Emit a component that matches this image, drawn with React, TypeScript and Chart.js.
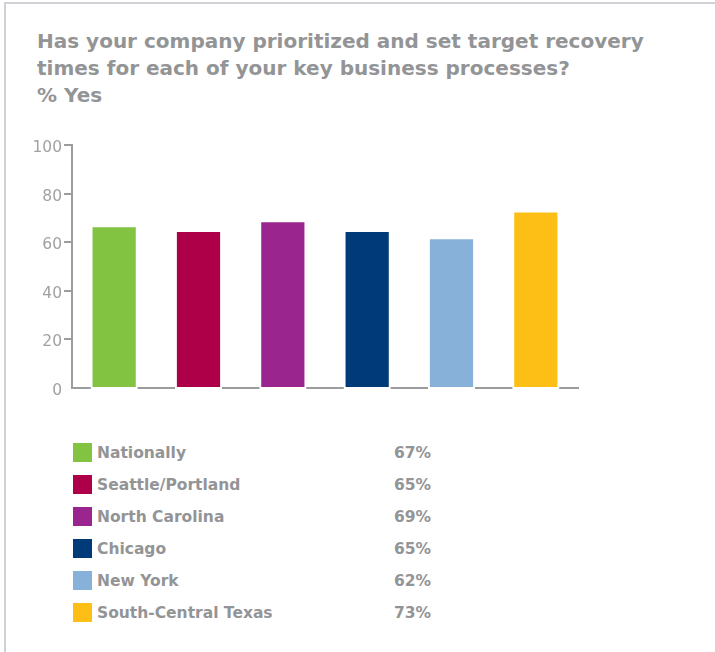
import React, { useEffect, useRef } from "react";
import { Chart, registerables } from "chart.js";

Chart.register(...registerables);

const titleLines = [
  "Has your company prioritized and set target recovery",
  "times for each of your key business processes?",
  "% Yes",
];
const categories = [
  "Nationally",
  "Seattle/Portland",
  "North Carolina",
  "Chicago",
  "New York",
  "South-Central Texas",
];
const values = [67, 65, 69, 65, 62, 73];
const valueLabels = ["67%", "65%", "69%", "65%", "62%", "73%"];
const colors = ["#82c341", "#ae0048", "#9b258f", "#003a78", "#87b1d9", "#fdbf16"];
const yTicks = [0, 20, 40, 60, 80, 100];

const AXIS = "#9c9c9e";
const TEXT = "#939496";

export default function App() {
  const ref = useRef<HTMLCanvasElement | null>(null);

  useEffect(() => {
    document.body.style.margin = "0";
    const canvas = ref.current;
    if (!canvas) return;
    const chart = new Chart(canvas, {
      type: "bar",
      data: {
        labels: categories,
        datasets: [
          {
            data: values,
            backgroundColor: colors,
            borderColor: "#ffffff",
            borderWidth: 2,
            borderSkipped: false,
            base: -0.4,
            clip: false as any,
            barPercentage: 0.56,
            categoryPercentage: 1,
          } as any,
        ],
      },
      options: {
        animation: false,
        responsive: false,
        maintainAspectRatio: false,
        layout: { padding: { top: 25, right: 22, bottom: 22, left: 0 } },
        plugins: { legend: { display: false }, tooltip: { enabled: false } },
        scales: {
          x: {
            offset: true,
            grid: { display: false, drawTicks: false },
            ticks: { display: false },
            border: { display: true, color: AXIS, width: 2 },
          },
          y: {
            min: 0,
            max: 100,
            afterFit: (s: any) => {
              s.width = 72;
            },
            afterBuildTicks: (s: any) => {
              s.ticks = yTicks.map((v) => ({ value: v }));
            },
            grid: {
              drawOnChartArea: false,
              drawTicks: true,
              tickLength: 8,
              lineWidth: 2,
              color: (c: any) => (c.tick && c.tick.value === 0 ? "rgba(0,0,0,0)" : AXIS),
            },
            border: { display: true, color: AXIS, width: 2 },
            ticks: {
              stepSize: 20,
              padding: 2,
              labelOffset: 3,
              color: "#a0a1a3",
              font: { family: "DejaVu Sans", size: 15.5, weight: "normal" },
            },
          },
        },
      },
    });
    return () => chart.destroy();
  }, []);

  return (
    <div style={{ position: "relative", width: 715, height: 652, overflow: "hidden", background: "#fff" }}>
      <div
        style={{
          position: "absolute",
          left: 4,
          top: 2,
          width: 720,
          height: 660,
          borderLeft: "2px solid #cfd1d4",
          borderTop: "2px solid #cfd1d4",
        }}
      />
      <div
        style={{
          position: "absolute",
          left: 37,
          top: 28,
          fontFamily: "'DejaVu Sans', sans-serif",
          fontWeight: "bold",
          fontSize: 20,
          lineHeight: "27px",
          color: TEXT,
          whiteSpace: "nowrap",
        }}
      >
        {titleLines.map((t, i) => (
          <div key={i}>{t}</div>
        ))}
      </div>
      <canvas ref={ref} width={600} height={290} style={{ position: "absolute", left: 0, top: 120, width: 600, height: 290 }} />
      <div style={{ position: "absolute", left: 73, top: 437 }}>
        {categories.map((c, i) => (
          <div key={c} style={{ position: "relative", height: 32, width: 360 }}>
            <div style={{ position: "absolute", left: 0, top: 6, width: 19, height: 19, background: colors[i] }} />
            <div
              style={{
                position: "absolute",
                left: 24,
                top: 5,
                fontFamily: "'DejaVu Sans', sans-serif",
                fontWeight: "bold",
                fontSize: 15.5,
                lineHeight: "22px",
                color: TEXT,
                whiteSpace: "nowrap",
              }}
            >
              {c}
            </div>
            <div
              style={{
                position: "absolute",
                right: 2,
                top: 5,
                fontFamily: "'DejaVu Sans', sans-serif",
                fontWeight: "bold",
                fontSize: 15.5,
                lineHeight: "22px",
                color: TEXT,
                whiteSpace: "nowrap",
              }}
            >
              {valueLabels[i]}
            </div>
          </div>
        ))}
      </div>
    </div>
  );
}
